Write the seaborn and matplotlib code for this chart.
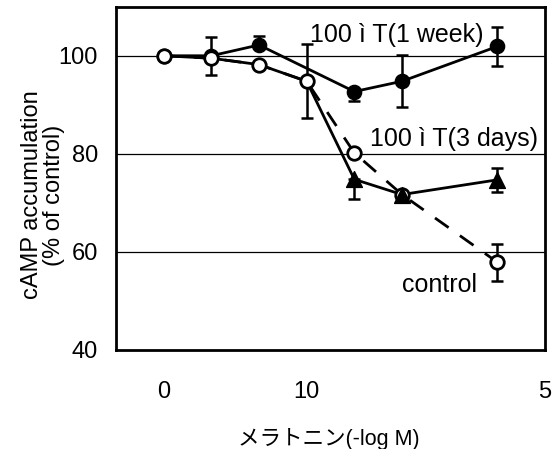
import matplotlib
matplotlib.use("Agg")
import matplotlib.pyplot as plt
import numpy as np
import pandas as pd
import seaborn as sns

# Melatonin concentration as -log M; position 13 holds the no-melatonin point (labelled "0")
conc = [13, 12, 11, 10, 9, 8, 6]
tick_pos = [13, 10, 5]
tick_labels = ["0", "10", "5"]

# 100 uT exposure for 1 week (no point at 10)
week_x = [13, 12, 11, 9, 8, 6]
week_y = [100.0, 100.0, 102.2, 92.7, 94.8, 101.9]
week_err_lo = [0.0, 3.9, 0.0, 2.0, 5.3, 3.9]
week_err_hi = [0.0, 3.9, 1.8, 0.0, 5.3, 3.9]

# 100 uT exposure for 3 days
days_y = [100.0, 99.5, 98.2, 94.8, 74.8, 71.7, 74.7]
days_err_lo = [0.0, 0.0, 0.0, 0.0, 4.0, 0.0, 2.4]
days_err_hi = [0.0, 0.0, 0.0, 0.0, 0.0, 0.0, 2.4]

# Control
ctrl_y = [100.0, 99.5, 98.2, 94.8, 80.2, 71.7, 57.9]
ctrl_err = [0.0, 0.0, 0.0, 7.5, 0.0, 0.0, 3.8]

sns.set_theme(style="white")
plt.rcParams["font.family"] = ["Liberation Sans", "Noto Sans CJK JP", "DejaVu Sans"]

fig = plt.figure(figsize=(5.55, 4.49), dpi=100)
ax = fig.add_axes([0.209, 0.2205, 0.773, 0.7645])

ctrl = pd.DataFrame({"x": conc, "y": ctrl_y})
days = pd.DataFrame({"x": conc, "y": days_y})
week = pd.DataFrame({"x": week_x, "y": week_y})

lw = 2.0
# lines
sns.lineplot(data=ctrl, x="x", y="y", ax=ax, sort=False, errorbar=None, color="black",
             lw=lw, linestyle=(0, (6, 5)), zorder=2)
sns.lineplot(data=days, x="x", y="y", ax=ax, sort=False, errorbar=None, color="black",
             lw=lw, zorder=2.5)
sns.lineplot(data=week, x="x", y="y", ax=ax, sort=False, errorbar=None, color="black",
             lw=lw, zorder=2.5)

# error bars
def bars(x, y, lo, hi):
    x = np.asarray(x, float); y = np.asarray(y, float)
    lo = np.asarray(lo, float); hi = np.asarray(hi, float)
    m = (lo > 0) | (hi > 0)
    ax.errorbar(x[m], y[m], yerr=[lo[m], hi[m]], fmt="none", ecolor="black",
                elinewidth=1.8, capsize=4.2, capthick=1.8, zorder=3)

bars(week_x, week_y, week_err_lo, week_err_hi)
bars(conc, days_y, days_err_lo, days_err_hi)
bars(conc, ctrl_y, ctrl_err, ctrl_err)

# markers
sns.scatterplot(data=week, x="x", y="y", ax=ax, marker="o", s=105, color="black",
                edgecolor="black", linewidth=1.0, zorder=4)
sns.scatterplot(data=ctrl, x="x", y="y", ax=ax, marker="o", s=95, color="white",
                edgecolor="black", linewidth=2.0, zorder=5)
sns.scatterplot(data=days.iloc[4:], x="x", y="y", ax=ax, marker="^", s=130, color="black",
                edgecolor="black", linewidth=1.0, zorder=6)

ax.set_xlim(14, 5)
ax.set_ylim(40, 110)
ax.set_xticks(tick_pos)
ax.set_xticklabels(tick_labels)
ax.set_yticks([40, 60, 80, 100])
ax.tick_params(axis="both", length=0, labelsize=17, colors="black")
ax.tick_params(axis="y", pad=13)
ax.tick_params(axis="x", pad=22)

ax.grid(False)
for yv in [60, 80, 100]:
    ax.axhline(yv, color="black", lw=0.9, zorder=1)

for s in ax.spines.values():
    s.set_visible(True)
    s.set_color("black")
    s.set_linewidth(2.0)

ax.set_xlabel("メラトニン(-log M)", fontsize=15.5, color="black")
ax.xaxis.set_label_coords(0.495, -0.226)
ax.set_ylabel("cAMP accumulation\n(% of control)", fontsize=17, color="black",
              linespacing=1.0)
ax.yaxis.set_label_coords(-0.118, 0.4515)

ax.text(9.93, 102.9, "100 ì T(1 week)", fontsize=18, ha="left", va="baseline", color="black")
ax.text(8.68, 81.6, "100 ì T(3 days)", fontsize=18, ha="left", va="baseline", color="black")
ax.text(7.99, 51.8, "control", fontsize=18, ha="left", va="baseline", color="black")

fig.savefig("out.png", dpi=100, facecolor="white")
